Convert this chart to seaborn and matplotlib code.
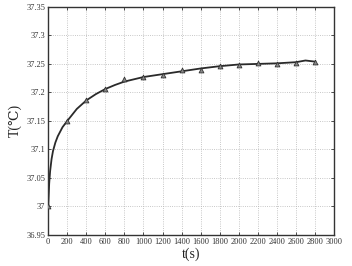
import matplotlib
matplotlib.use("Agg")
import matplotlib.pyplot as plt
import seaborn as sns
import pandas as pd

# measured points (triangles)
t_pts = [0, 200, 400, 600, 800, 1000, 1200, 1400, 1600, 1800, 2000, 2200, 2400, 2600, 2800]
T_pts = [37.0, 37.15, 37.187, 37.206, 37.223, 37.227, 37.23, 37.24, 37.24, 37.247, 37.248,
         37.251, 37.25, 37.252, 37.253]

# fitted curve
t_fit = [0, 10, 20, 35, 50, 75, 100, 150, 200, 300, 400, 500, 600, 700, 800, 1000, 1200,
         1400, 1600, 1800, 2000, 2200, 2400, 2600, 2700, 2800]
T_fit = [37.0, 37.04, 37.062, 37.083, 37.097, 37.112, 37.123, 37.139, 37.15, 37.171, 37.186,
         37.197, 37.206, 37.213, 37.219, 37.227, 37.232, 37.237, 37.242, 37.246, 37.249,
         37.25, 37.251, 37.253, 37.256, 37.254]

x_ticks = list(range(0, 3001, 200))
y_ticks = [36.95, 37.0, 37.05, 37.1, 37.15, 37.2, 37.25, 37.3, 37.35]
y_labels = ["36.95", "37", "37.05", "37.1", "37.15", "37.2", "37.25", "37.3", "37.35"]

sns.set_style("ticks")
plt.rcParams['font.family'] = ['Liberation Serif', 'DejaVu Serif']

fig, ax = plt.subplots(figsize=(3.52, 2.66), dpi=100)
fig.subplots_adjust(left=0.137, right=0.949, top=0.974, bottom=0.117)

fit_df = pd.DataFrame({'t': t_fit, 'T': T_fit})
pts_df = pd.DataFrame({'t': t_pts, 'T': T_pts})
sns.lineplot(data=fit_df, x='t', y='T', ax=ax, color='#2a2a2a', linewidth=1.3)
sns.scatterplot(data=pts_df, x='t', y='T', ax=ax, marker='^', s=12, color='#888888',
                edgecolor='#333333', linewidth=0.6, zorder=3)

ax.set_xlim(0, 3000)
ax.set_ylim(36.95, 37.35)
ax.set_xticks(x_ticks)
ax.set_xticklabels([str(v) for v in x_ticks])
ax.set_yticks(y_ticks)
ax.set_yticklabels(y_labels)
ax.tick_params(direction='in', length=2.5, width=0.6, labelsize=6, top=True, right=True,
               colors='#333333', pad=2)
ax.grid(True, linestyle=':', linewidth=0.6, color='#b5b5b5')
for sp in ax.spines.values():
    sp.set_linewidth(1.0)
    sp.set_color('#333333')
ax.set_xlabel('t(s)', fontsize=10, labelpad=1, color='#222222')
ax.set_ylabel('T(℃)', fontsize=10, labelpad=3, color='#222222')

fig.savefig('out.png', dpi=100)
